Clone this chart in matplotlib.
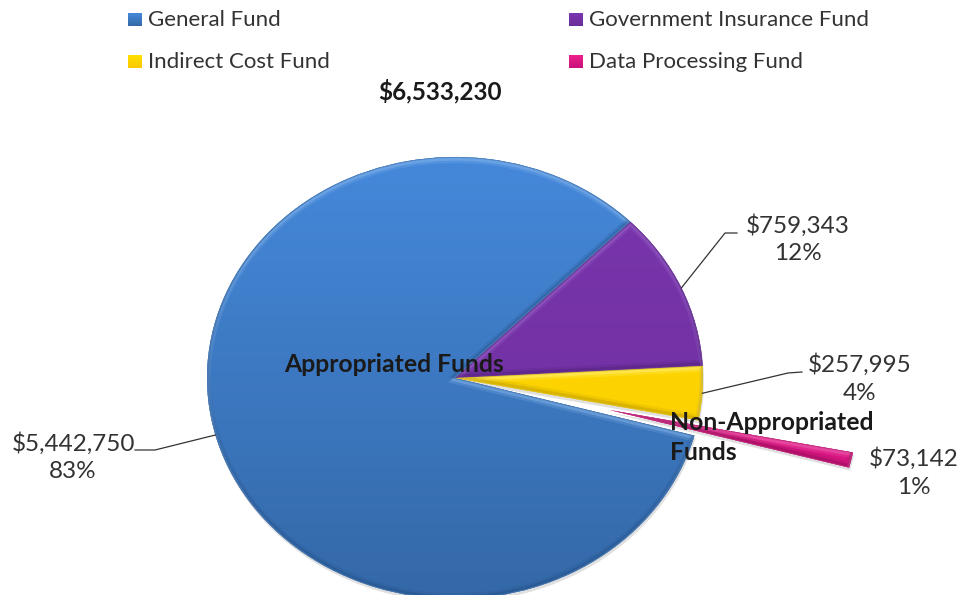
#!/usr/bin/env python3

import numpy as np
import matplotlib
matplotlib.use("Agg")
import matplotlib.pyplot as plt
from matplotlib.colors import to_rgb
from matplotlib.patches import PathPatch
from matplotlib.transforms import Affine2D

funds = ["General Fund", "Government Insurance Fund", "Indirect Cost Fund", "Data Processing Fund"]
amounts = [5442750, 759343, 257995, 73142]
percents = ["83%", "12%", "4%", "1%"]
amount_labels = ["$5,442,750", "$759,343", "$257,995", "$73,142"]
total_label = "$6,533,230"
explode = [0, 0, 0, 0.64]

# top and bottom shade of each slice, then bevel highlight and bevel shadow
tops = ["#4588da", "#7a36ae", "#ffe000", "#ee1f8e"]
bottoms = ["#3469a8", "#6c2e9c", "#fbc800", "#c8107a"]
rims = ["#8fbdf0", "#a36fd0", "#fff68a", "#f772bb"]
shades = ["#1f4a80", "#451a6a", "#a88800", "#7d0a47"]

W, H = 963, 595
CX, CY, RX, RY = 455, 378, 248, 221

plt.rcParams['font.family'] = ['Lato', 'DejaVu Sans']


def px(x, y):
    # picture pixels to pie units
    return (x - CX) / RX, (CY - y) / RY


def shifted(path, dx, dy):
    # move a path by picture pixels, y going up
    return path.transformed(Affine2D().translate(dx / RX, dy / RY))


fig = plt.figure(figsize=(W / 100, H / 100), dpi=100)
ax = fig.add_axes([0, 0, 1, 1])

wedges, _ = ax.pie(amounts, explode=explode, startangle=-15.1, counterclock=False,
                   colors=bottoms, radius=1)

for w, top, bottom, rim, shade in zip(wedges, tops, bottoms, rims, shades):
    z = w.get_zorder()
    x0, y0 = w.center[0] - 1, w.center[1] - 1
    grad = np.linspace(to_rgb(top), to_rgb(bottom), 64)[:, None, :]
    im = ax.imshow(grad, extent=[x0, x0 + 2, y0, y0 + 2], aspect='auto', zorder=z + 0.1)
    im.set_clip_path(w)
    path = w.get_path().transformed(w.get_patch_transform())

    # soft drop shadow below the slices
    ax.add_patch(PathPatch(shifted(path, 1, -3), fc='#999999', ec='none', alpha=0.3, zorder=z - 0.5))

    # light on the edges facing up, dark on the edges facing down
    for off, lw, alpha in [(1.5, 3, 0.4), (2.5, 5, 0.2)]:
        lit = PathPatch(shifted(path, 0, -off), fc='none', ec=rim, lw=lw, alpha=alpha, zorder=z + 0.2)
        ax.add_patch(lit)
        lit.set_clip_path(w)
        dark = PathPatch(shifted(path, 0, off), fc='none', ec=shade, lw=lw, alpha=alpha * 0.75, zorder=z + 0.3)
        ax.add_patch(dark)
        dark.set_clip_path(w)

ax.set_aspect('auto')

# leaders start on the rim, at the middle of their slice
elbows = {0: [(155, 450), (135, 450)], 1: [(725, 233), (737, 233)], 2: [(788, 373), (802, 372)]}
for i, pts in elbows.items():
    mid = np.radians((wedges[i].theta1 + wedges[i].theta2) / 2)
    xs = [np.cos(mid)] + [px(*p)[0] for p in pts]
    ys = [np.sin(mid)] + [px(*p)[1] for p in pts]
    ax.plot(xs, ys, color='#333333', lw=0.9, zorder=8)

label_pos = [(73, 444, 471), (798, 226, 254), (860, 365, 393), (914, 459, 487)]
for amt, pct, (x, y1, y2) in zip(amount_labels, percents, label_pos):
    ax.text(*px(x, y1), amt, ha='center', va='center', fontsize=17.5, color='#333333', zorder=9)
    ax.text(*px(x, y2), pct, ha='center', va='center', fontsize=17.5, color='#333333', zorder=9)

ax.text(*px(440, 91), total_label, ha='center', va='center', fontsize=17.5, fontweight='bold', color='#1a1a1a', zorder=9)
ax.text(*px(394, 364), "Appropriated Funds", ha='center', va='center', fontsize=17.8, fontweight='bold', color='#1a1a1a', zorder=9)
ax.text(*px(670, 423), "Non-Appropriated", ha='left', va='center', fontsize=17.8, fontweight='bold', color='#1a1a1a', zorder=9)
ax.text(*px(670, 452), "Funds", ha='left', va='center', fontsize=17.8, fontweight='bold', color='#1a1a1a', zorder=9)

legend_pos = [(128, 13), (569, 13), (128, 55), (569, 55)]
for name, top, bottom, (x, y) in zip(funds, tops, bottoms, legend_pos):
    lx, ly = px(x, y + 13)
    grad = np.linspace(to_rgb(top), to_rgb(bottom), 16)[:, None, :]
    ax.imshow(grad, extent=[lx, lx + 14 / RX, ly, ly + 13 / RY], aspect='auto', zorder=9)
    ax.text(*px(x + 20, y + 7), name, ha='left', va='center', fontsize=16, color='#333333', zorder=9)

ax.set_xlim(-CX / RX, (W - CX) / RX)
ax.set_ylim((CY - H) / RY, CY / RY)
ax.axis('off')

fig.savefig("out.png", dpi=100, facecolor='white')
